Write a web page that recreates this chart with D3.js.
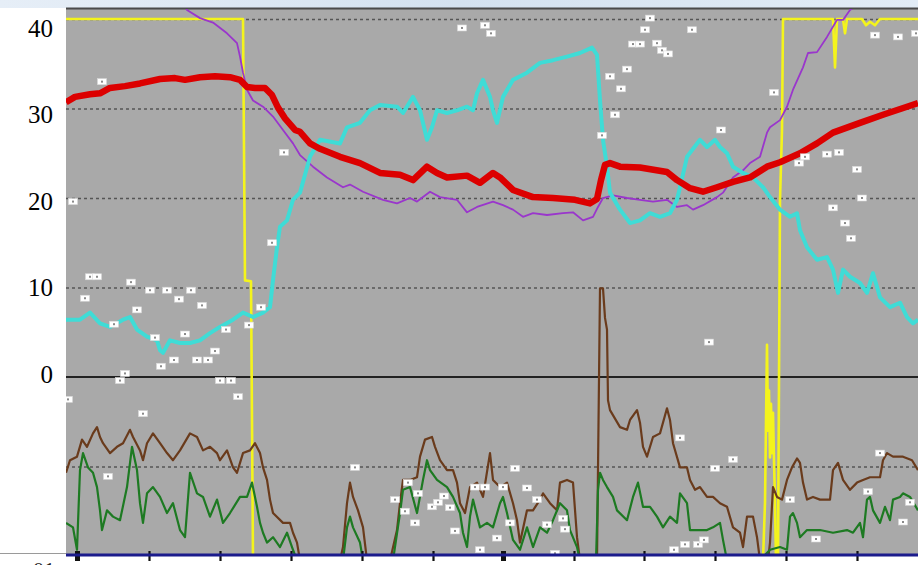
<!DOCTYPE html>
<html><head><meta charset="utf-8">
<script src="https://cdn.jsdelivr.net/npm/d3@7"></script>
<style>html,body{margin:0;padding:0;background:#fff;overflow:hidden}</style>
</head><body>
<svg id="c" width="918" height="565"></svg>
<script>
// ---------- data (x = sample index, y = chart units) ----------
const yTicks = [40, 30, 20, 10, 0];
const gridDashed = [40, 30, 20, 10, -10];
const xTickValues = [11, 83, 154, 225, 296, 367, 437, 508, 578, 649, 720, 791];
const xTickThick = [11, 437];
const bottomLabel = "01";

const yellowSeries = [[0,40],[177,40],[179,10.8],[185,10.7],[187,-20.5],[697,-20.5],[699,-14.0],[700,-5.0],[701,3.6],[702,-6.0],[703,-1.5],[704,-9.0],[705,-3.0],[706,-8.5],[707,-4.0],[708,-9.3],[709,-14.0],[710,-20.5],[712,-20.5],[714,19.8],[716,27.6],[717,40],[767,40],[769,34.6],[771,40],[777,40],[779,38.4],[781,40],[796,40],[800,39.3],[804,39.7],[809,39.3],[814,40],[852,40]];

const purpleSeries = [[115,42.5],[121,41.0],[134,40.1],[147,39.6],[161,38.4],[171,37.3],[174,35.8],[177,34.0],[181,32.1],[187,30.9],[197,30.2],[207,29.1],[217,27.6],[227,26.1],[234,24.8],[247,23.5],[261,22.3],[277,21.2],[284,21.5],[297,20.7],[317,19.8],[331,19.4],[344,20.0],[351,19.6],[364,20.7],[374,20.1],[391,19.8],[401,18.4],[411,19.0],[427,19.6],[437,19.2],[447,18.7],[457,17.9],[467,18.3],[481,18.1],[497,18.3],[507,18.4],[517,17.5],[527,17.9],[532,19.0],[537,20.0],[547,20.3],[561,20.0],[574,19.8],[587,19.6],[601,19.8],[611,19.0],[621,19.2],[627,18.7],[637,19.2],[651,20.1],[657,20.6],[667,22.3],[677,23.1],[684,23.9],[694,24.6],[701,27.3],[704,27.9],[714,28.7],[721,30.2],[727,32.1],[737,34.6],[742,36.2],[751,36.3],[761,38.0],[771,39.9],[777,39.9],[784,41.0],[791,41.6]];

const redSeries = [[0,30.7],[9,31.3],[24,31.6],[34,31.7],[44,32.3],[59,32.5],[74,32.8],[94,33.3],[109,33.4],[119,33.2],[134,33.5],[149,33.6],[164,33.5],[174,33.2],[181,32.4],[189,32.3],[199,32.3],[206,31.5],[212,30.1],[219,28.9],[229,27.6],[234,27.4],[244,26.1],[254,25.5],[274,24.6],[294,23.9],[314,22.8],[334,22.6],[347,22.0],[361,23.5],[371,22.8],[381,22.3],[401,22.5],[414,21.7],[427,22.8],[434,22.3],[447,20.9],[467,20.1],[487,20.0],[509,19.8],[524,19.4],[531,19.9],[535,22.0],[539,23.7],[544,23.9],[554,23.5],[574,23.4],[601,22.9],[611,22.0],[624,21.1],[637,20.7],[651,21.2],[667,21.8],[684,22.3],[701,23.5],[714,24.0],[734,25.0],[751,26.1],[767,27.3],[794,28.4],[817,29.3],[841,30.2],[852,30.6]];

const cyanSeries = [[0,6.4],[14,6.4],[24,7.2],[34,6.0],[44,5.6],[57,6.4],[64,6.7],[71,5.3],[81,4.5],[91,4.1],[94,3.0],[97,2.7],[104,4.1],[114,3.8],[124,3.8],[134,4.1],[144,4.9],[154,5.6],[167,6.4],[177,7.2],[187,6.7],[197,7.2],[204,7.8],[207,10.8],[211,14.5],[214,16.8],[221,17.5],[227,19.8],[234,20.6],[244,24.6],[254,26.5],[274,26.1],[281,27.9],[294,28.4],[304,29.8],[314,30.4],[331,30.2],[337,29.5],[347,31.3],[354,29.8],[361,26.5],[366,27.9],[371,29.8],[381,29.5],[391,29.8],[401,30.2],[407,29.8],[411,31.7],[417,33.2],[424,31.3],[427,29.8],[431,28.4],[437,31.3],[447,33.2],[461,34.0],[474,35.1],[487,35.4],[501,35.8],[514,36.2],[526,36.8],[531,36.0],[534,30.9],[537,26.5],[541,23.5],[544,20.6],[554,18.7],[564,17.2],[574,17.5],[584,18.3],[594,17.9],[604,18.3],[611,19.8],[614,21.2],[621,24.6],[634,26.5],[641,25.7],[649,26.5],[654,25.7],[661,25.0],[667,23.5],[677,22.8],[687,22.3],[697,21.2],[704,20.1],[714,18.7],[724,17.9],[731,18.3],[734,16.4],[741,14.5],[751,13.1],[761,13.4],[767,12.0],[772,9.4],[777,12.0],[784,11.2],[794,10.5],[801,9.4],[807,11.6],[814,8.9],[824,7.8],[834,8.3],[841,6.7],[847,6.0],[852,6.4]];

const brownSeries = [[0,-10.7],[4,-9.3],[11,-8.9],[16,-7.0],[21,-7.8],[27,-6.3],[31,-5.6],[34,-6.7],[37,-7.4],[44,-8.5],[51,-7.8],[57,-7.4],[64,-5.9],[67,-6.7],[74,-8.2],[77,-9.3],[81,-7.4],[87,-6.3],[94,-7.4],[101,-8.5],[107,-9.3],[114,-8.2],[124,-6.3],[131,-6.7],[137,-8.2],[144,-7.8],[151,-8.5],[154,-9.3],[161,-8.2],[167,-10.1],[171,-10.7],[177,-8.5],[184,-8.2],[189,-7.4],[194,-8.5],[197,-10.1],[201,-11.5],[204,-13.7],[207,-15.2],[217,-16.3],[224,-16.3],[227,-17.4],[231,-18.5],[234,-20.5],[274,-20.5],[277,-19.0],[281,-14.1],[284,-11.8],[287,-13.4],[292,-14.9],[297,-16.8],[301,-20.5],[324,-20.5],[331,-17.1],[334,-14.1],[337,-11.5],[344,-11.5],[351,-11.2],[354,-8.9],[359,-7.0],[366,-6.7],[369,-7.8],[374,-9.3],[381,-10.4],[387,-10.4],[391,-11.8],[394,-14.1],[399,-15.2],[404,-12.3],[411,-11.8],[417,-13.4],[424,-8.5],[427,-11.5],[434,-12.3],[441,-11.8],[447,-14.1],[451,-16.0],[454,-18.5],[461,-14.9],[467,-14.9],[474,-13.7],[477,-13.0],[484,-14.1],[491,-14.9],[494,-11.8],[501,-11.5],[507,-11.8],[511,-17.9],[514,-20.5],[531,-20.5],[534,9.9],[537,9.9],[539,6.6],[541,5.3],[542,-2.6],[544,-3.7],[554,-5.6],[561,-5.9],[564,-4.8],[571,-3.7],[574,-5.1],[577,-7.8],[581,-8.9],[587,-6.7],[594,-6.3],[601,-3.5],[604,-4.8],[607,-7.4],[614,-10.1],[621,-10.1],[624,-11.5],[629,-12.6],[634,-12.3],[641,-13.4],[647,-13.4],[654,-14.1],[661,-14.5],[667,-16.8],[674,-17.4],[677,-19.0],[681,-15.6],[687,-15.6],[691,-17.9],[694,-20.5],[702,-20.5],[704,-18.5],[707,-12.3],[711,-13.4],[716,-13.7],[721,-11.5],[726,-10.1],[731,-9.1],[734,-9.6],[737,-11.8],[741,-13.7],[747,-13.4],[754,-13.7],[764,-13.7],[767,-10.4],[772,-9.6],[777,-11.5],[784,-12.6],[791,-11.8],[797,-11.5],[804,-11.2],[814,-11.2],[817,-9.3],[821,-8.5],[827,-8.9],[837,-8.9],[846,-9.3],[852,-10.4]];

const greenSeries = [[0,-16.3],[7,-16.8],[11,-19.3],[14,-10.4],[17,-8.5],[22,-10.1],[27,-10.7],[31,-12.3],[34,-14.9],[36,-17.1],[41,-14.9],[47,-15.6],[54,-16.0],[61,-12.3],[66,-7.8],[71,-10.4],[74,-14.1],[77,-16.3],[81,-13.0],[87,-12.3],[94,-13.4],[101,-15.2],[107,-14.1],[114,-17.1],[119,-17.9],[124,-10.7],[131,-13.0],[137,-13.4],[144,-15.6],[151,-13.7],[157,-16.3],[164,-15.2],[174,-13.4],[181,-13.4],[186,-11.8],[191,-14.5],[194,-16.3],[197,-17.4],[201,-18.5],[207,-17.9],[214,-19.0],[221,-17.4],[226,-19.0],[231,-20.5],[277,-20.5],[281,-16.8],[284,-15.6],[287,-16.8],[294,-18.5],[297,-20.5],[327,-20.5],[334,-15.2],[337,-12.6],[344,-12.3],[351,-15.2],[357,-11.5],[361,-9.3],[364,-10.4],[371,-11.5],[381,-12.3],[387,-13.4],[394,-15.2],[397,-17.4],[401,-19.0],[404,-15.6],[407,-13.7],[414,-16.8],[421,-16.3],[427,-16.8],[434,-14.1],[437,-13.4],[441,-15.2],[447,-18.2],[454,-19.3],[461,-16.8],[467,-19.0],[474,-16.8],[481,-17.4],[487,-16.0],[494,-14.1],[501,-14.9],[504,-17.1],[511,-19.0],[514,-20.5],[530,-20.5],[532,-12.6],[534,-10.7],[537,-11.5],[541,-12.3],[547,-13.4],[551,-14.9],[561,-16.0],[567,-13.4],[572,-11.8],[577,-14.5],[584,-14.5],[591,-15.6],[597,-16.8],[604,-15.6],[611,-16.3],[614,-13.0],[621,-14.1],[624,-17.1],[631,-17.1],[641,-17.1],[647,-16.8],[654,-16.3],[657,-18.2],[661,-20.5],[694,-20.5],[704,-19.3],[714,-19.0],[721,-19.3],[724,-15.6],[727,-15.2],[731,-16.3],[734,-17.9],[741,-17.1],[754,-17.1],[767,-17.4],[781,-17.1],[787,-17.4],[794,-16.3],[797,-17.9],[801,-13.7],[804,-13.4],[807,-14.9],[814,-16.3],[819,-14.5],[824,-16.0],[827,-13.7],[834,-13.4],[837,-13.0],[844,-13.4],[852,-14.9]];

const markerPoints = [[36,33.0],[218,25.1],[7,19.6],[24,11.2],[31,11.2],[19,8.8],[48,5.9],[65,10.6],[71,7.5],[84,9.7],[101,9.7],[125,9.7],[113,8.7],[136,8.0],[89,4.4],[119,4.8],[95,1.2],[108,1.9],[131,1.9],[142,1.9],[149,2.9],[160,5.3],[183,5.8],[195,7.8],[206,15.0],[59,0.4],[54,-0.4],[2,-2.5],[77,-4.1],[42,-11.1],[154,-0.4],[165,-0.4],[172,-2.2],[396,39.0],[419,39.3],[425,38.4],[584,40.1],[579,38.8],[567,37.2],[574,37.2],[591,37.3],[596,36.5],[602,36.1],[561,34.4],[544,33.6],[555,32.2],[549,29.3],[536,27.0],[626,38.8],[708,31.8],[655,27.6],[809,38.2],[832,38.0],[850,38.4],[733,23.9],[739,24.6],[761,24.9],[773,25.1],[791,23.2],[796,20.0],[767,18.9],[779,17.2],[785,15.5],[643,3.9],[289,-10.1],[449,-10.2],[461,-12.4],[471,-13.7],[329,-13.7],[339,-15.0],[349,-16.3],[366,-14.5],[372,-14.0],[378,-13.3],[384,-14.6],[389,-17.2],[414,-19.3],[431,-18.0],[444,-16.3],[489,-19.7],[499,-17.0],[497,-15.8],[481,-16.5],[409,-12.3],[419,-12.3],[437,-12.3],[342,-11.8],[352,-13.0],[614,-6.8],[667,-9.2],[649,-10.2],[608,-19.3],[619,-18.7],[632,-18.7],[638,-18.2],[750,-18.1],[802,-12.8],[814,-8.5],[837,-16.2],[724,-13.7],[844,-14.0]];

// ---------- drawing ----------
const svg = d3.select("#c");
const W = 918, H = 565;
const L = 66, R = 918, T = 8, B = 556;

const x = d3.scaleLinear().domain([0, 852]).range([L, R]);
const y = d3.scaleLinear().domain([-20, 41.23]).range([B, T]);
const yLab = d3.scaleLinear().domain([0, 40]).range([374, 28]);

// backgrounds
svg.append("rect").attr("x",0).attr("y",0).attr("width",W).attr("height",H).attr("fill","#ffffff");
const defs = svg.append("defs");
const topGrad = defs.append("linearGradient").attr("id","tg").attr("x1","0").attr("x2","1");
topGrad.append("stop").attr("offset","0").attr("stop-color","#e6eef7");
topGrad.append("stop").attr("offset","0.5").attr("stop-color","#d4e2f0");
topGrad.append("stop").attr("offset","1").attr("stop-color","#e2ecf6");
svg.append("rect").attr("x",0).attr("y",0).attr("width",W).attr("height",T).attr("fill","url(#tg)");
svg.append("rect").attr("x",L).attr("y",T).attr("width",R-L).attr("height",B-T).attr("fill","#a9a9a9");
defs.append("clipPath").attr("id","pc").append("rect")
  .attr("x",L).attr("y",T+1).attr("width",R-L).attr("height",B-T-1);

// top border
svg.append("line").attr("x1",L).attr("x2",R).attr("y1",T+0.5).attr("y2",T+0.5)
  .attr("stroke","#4a4a4a").attr("stroke-width",2);

// grid
const grid = svg.append("g").attr("transform",`translate(${L},0)`)
  .call(d3.axisLeft(y).tickValues(gridDashed).tickSize(-(R-L)).tickFormat(""));
grid.select(".domain").remove();
grid.selectAll(".tick line").attr("stroke","#555").attr("stroke-width",1.6).attr("stroke-dasharray","3,3");
svg.append("line").attr("x1",L).attr("x2",R).attr("y1",y(0)).attr("y2",y(0))
  .attr("stroke","#222").attr("stroke-width",2);

// y labels
svg.append("g").selectAll("text").data(yTicks).join("text")
  .attr("x",53).attr("y",d=>yLab(d)).attr("text-anchor","end").attr("dominant-baseline","central")
  .attr("font-family","'Liberation Serif','Times New Roman',serif").attr("font-size",25).attr("fill","#000")
  .text(d=>d);

const plot = svg.append("g").attr("clip-path","url(#pc)");
const line = d3.line().x(d=>x(d[0])).y(d=>y(d[1]));

function drawLine(data, color, w){
  plot.append("path").datum(data).attr("d",line).attr("fill","none")
    .attr("stroke",color).attr("stroke-width",w).attr("stroke-linejoin","round");
}
drawLine(yellowSeries, "#f4f41c", 2.6);
drawLine(purpleSeries, "#9a36cc", 1.8);
drawLine(cyanSeries, "#3fdcd6", 4);
drawLine(redSeries, "#dc0000", 6.5);
drawLine(brownSeries, "#6a3b1c", 2.2);
drawLine(greenSeries, "#1d7a22", 2.2);

// markers
const mk = plot.append("g").selectAll("g").data(markerPoints).join("g")
  .attr("transform",d=>`translate(${x(d[0])},${y(d[1])})`);
mk.append("rect").attr("x",-4.5).attr("y",-3).attr("width",9).attr("height",6)
  .attr("fill","#ffffff").attr("stroke","#d8d8d8").attr("stroke-width",0.6);
mk.append("rect").attr("x",-1).attr("y",-1).attr("width",2).attr("height",2).attr("fill","#8a8a8a");

// bottom axis
svg.append("rect").attr("x",L).attr("y",B).attr("width",R-L).attr("height",H-B).attr("fill","#ffffff");
svg.append("line").attr("x1",0).attr("x2",L).attr("y1",553.5).attr("y2",553.5).attr("stroke","#9a9a9a").attr("stroke-width",1);
const xa = svg.append("g").attr("transform",`translate(0,${551})`)
  .call(d3.axisBottom(x).tickValues(xTickValues).tickSize(10).tickFormat(""));
xa.select(".domain").remove();
xa.selectAll(".tick line").attr("stroke","#111")
  .attr("stroke-width",d=>xTickThick.includes(d)?5:2.2);
svg.append("line").attr("x1",L).attr("x2",R).attr("y1",555).attr("y2",555)
  .attr("stroke","#1b1b8c").attr("stroke-width",3);

svg.append("text").attr("x",33).attr("y",577).attr("font-family","'Liberation Serif',serif")
  .attr("font-size",22).attr("fill","#222").text(bottomLabel);
</script>
</body></html>
